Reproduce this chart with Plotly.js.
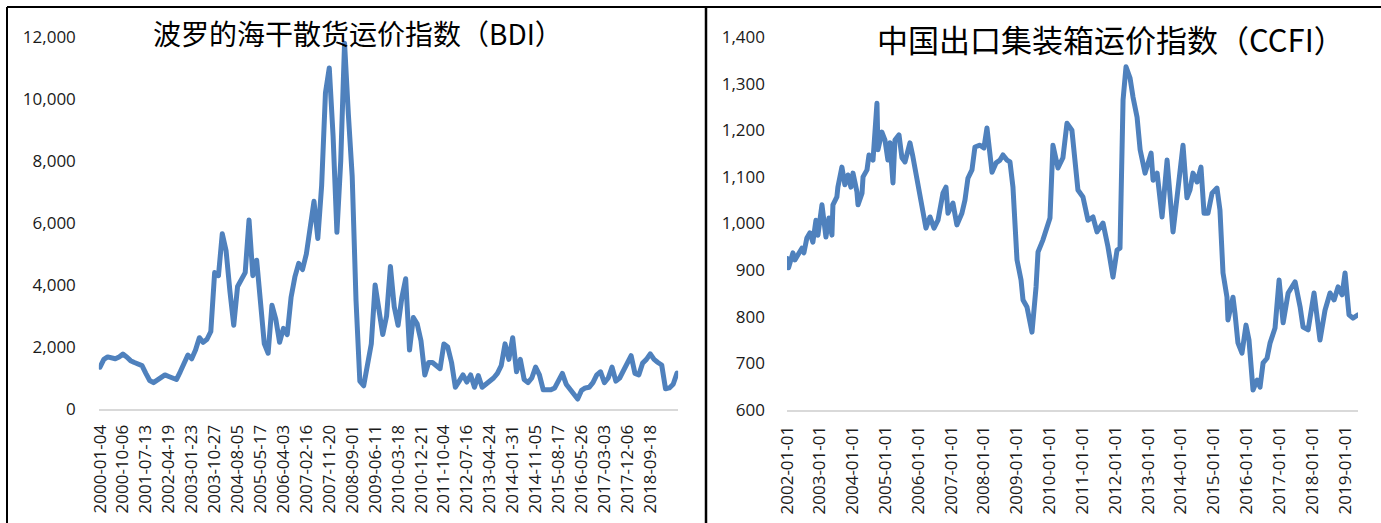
<!DOCTYPE html>
<html>
<head>
<meta charset="utf-8">
<script src="https://cdn.plot.ly/plotly-3.0.1.min.js"></script>
<style>
html,body{margin:0;padding:0;background:#fff;}
#chart{width:1381px;height:523px;}
.scatterlayer .js-line{stroke-linejoin:round;stroke-linecap:round;}
</style>
</head>
<body>
<div id="chart"></div>
<script>
// ---------------- DATA ----------------
const bdiTitle = "波罗的海干散货运价指数（BDI）";
const ccfiTitle = "中国出口集装箱运价指数（CCFI）";

// BDI category-axis tick labels (every 6th point in the series below)
const bdiTickLabels = [
  "2000-01-04","2000-10-06","2001-07-13","2002-04-19","2003-01-23","2003-10-27",
  "2004-08-05","2005-05-17","2006-04-03","2007-02-16","2007-11-20","2008-09-01",
  "2009-06-11","2010-03-18","2010-12-21","2011-10-04","2012-07-16","2013-04-24",
  "2014-01-31","2014-11-05","2015-08-17","2016-05-26","2017-03-03","2017-12-06",
  "2018-09-18"
];
const bdiPointsPerLabel = 6;

// BDI values, evenly spaced along the category axis
const bdiValues2000_2003 = [
  1350,1600,1680,1640,1620,1680, 1770,1680,1560,1500,1460,1400,
  1150,920,850,930,1000,1100, 1050,1000,950,1200,1450,1740,
  1620,1900,2300,2150,2250,2500
];
const bdiValues2003_2007 = [
  4400,4300,5650,5100,3800,2700, 3950,4150,4400,6100,4300,4800,
  3200,2100,1800,3350,2900,2150, 2600,2400,3600,4260,4700,4500,
  5000,6000,6700,5500,7200,10200
];
const bdiValues2007_2011 = [
  11000,8800,5700,8000,11800,9500, 7500,3500,900,750,1400,2100,
  4000,3200,2400,3000,4600,3300, 2700,3600,4200,1900,2950,2750,
  2200,1100,1500,1500,1400,1300
];
const bdiValues2011_2015 = [
  2100,2000,1500,700,900,1100, 870,1100,700,1080,700,800,
  870,1000,1150,1400,2100,1600, 2300,1200,1600,950,850,1000,
  1350,1100,620,600,620,680
];
const bdiValues2015_2019 = [
  950,1150,800,650,450,320, 600,680,700,850,1100,1200,
  850,1000,1350,900,1000,1250, 1500,1720,1150,1100,1480,1600,
  1780,1600,1500,1420,650,680, 800,1160
];

// CCFI readings (date, value)
const ccfiDates = [
  "2002-01-04","2002-01-18","2002-03-08","2002-03-30","2002-06-16","2002-07-08","2002-08-10","2002-09-13","2002-10-16","2002-11-19","2002-12-11",
  "2003-01-25","2003-03-10","2003-04-13","2003-05-16","2003-05-27","2003-07-10","2003-07-21","2003-09-04","2003-10-07","2003-11-10","2003-12-13",
  "2004-01-05","2004-02-18","2004-03-01","2004-04-15","2004-04-26","2004-06-09","2004-07-01","2004-08-15","2004-09-28","2004-10-09","2004-11-22","2004-12-26",
  "2005-01-28","2005-02-20","2005-03-25","2005-04-16","2005-05-31","2005-07-03","2005-08-06","2005-09-30","2005-11-02","2005-12-17",
  "2006-01-19","2006-02-22","2006-03-27","2006-05-11","2006-06-25","2006-08-08","2006-10-02","2006-11-05","2006-11-27",
  "2007-01-21","2007-03-06","2007-05-01","2007-06-04","2007-07-07","2007-08-21","2007-09-23","2007-11-18",
  "2008-01-01","2008-02-04","2008-03-31","2008-05-15","2008-06-28","2008-07-31","2008-09-14","2008-10-17","2008-11-19",
  "2009-01-03","2009-02-17","2009-03-11","2009-04-24","2009-06-19","2009-08-03","2009-08-25","2009-10-19","2009-12-02",
  "2010-01-05","2010-02-07","2010-04-04","2010-05-29","2010-07-13","2010-09-06","2010-11-12",
  "2011-01-07","2011-03-04","2011-04-28","2011-06-12","2011-08-18","2011-10-12","2011-12-07",
  "2012-01-21","2012-02-23","2012-03-28","2012-04-30","2012-06-14","2012-07-17","2012-08-31","2012-10-04","2012-11-28",
  "2013-02-03","2013-02-25","2013-04-11","2013-06-05","2013-07-31","2013-09-02","2013-10-05","2013-11-19",
  "2014-01-24","2014-03-09","2014-04-12","2014-05-15","2014-06-29","2014-08-12","2014-09-15","2014-10-29","2014-12-13",
  "2015-02-06","2015-03-11","2015-04-14","2015-05-28","2015-06-08","2015-08-03","2015-08-25","2015-09-27","2015-11-11","2015-12-26",
  "2016-01-28","2016-03-13","2016-04-27","2016-05-30","2016-07-03","2016-08-16","2016-09-19","2016-11-13","2016-12-28",
  "2017-02-11","2017-04-08","2017-06-24","2017-08-19","2017-09-21","2017-11-16",
  "2018-01-21","2018-03-28","2018-05-23","2018-07-18","2018-09-01","2018-10-15","2018-11-29",
  "2019-01-01","2019-02-14","2019-03-30","2019-05-25"
];
const ccfiValues = [
  925,905,937,922,947,937,969,980,960,1007,975,
  1040,971,1012,975,1040,1057,1078,1121,1083,1104,1078,
  1108,1068,1040,1065,1100,1115,1147,1136,1258,1158,1196,1179,
  1136,1173,1087,1179,1190,1141,1132,1173,1143,1097,
  1057,1035,990,1014,990,1007,1065,1078,1022,
  1044,997,1022,1050,1097,1115,1164,1168,
  1162,1205,1110,1130,1136,1147,1136,1132,1078,
  922,879,836,821,767,864,939,965,997,
  1012,1168,1119,1141,1215,1200,1072,
  1057,1007,1014,982,1001,950,885,
  943,947,1265,1336,1312,1271,1228,1158,1108,
  1151,1093,1108,1014,1136,1050,982,1057,
  1168,1055,1072,1108,1089,1121,1022,1022,1065,
  1076,1029,894,842,793,842,808,744,722,782,
  750,643,664,649,701,711,744,776,879,
  787,851,875,821,778,772,
  851,750,814,851,836,864,847,
  894,804,797,804
];
const ccfiTickLabels = [
  "2002-01-01","2003-01-01","2004-01-01","2005-01-01","2006-01-01","2007-01-01",
  "2008-01-01","2009-01-01","2010-01-01","2011-01-01","2012-01-01","2013-01-01",
  "2014-01-01","2015-01-01","2016-01-01","2017-01-01","2018-01-01","2019-01-01"
];
const bdiYTicks = [0,2000,4000,6000,8000,10000,12000];
const ccfiYTicks = [600,700,800,900,1000,1100,1200,1300,1400];

// ---------------- BUILD ----------------
const W = 1381, H = 523;
const px = x => x / W;
const py = y => 1 - y / H;

const bdiValues = [].concat(bdiValues2000_2003, bdiValues2003_2007, bdiValues2007_2011,
                            bdiValues2011_2015, bdiValues2015_2019);

function toDate(s){ return new Date(s + "T00:00:00Z"); }
function fmt(d){ return d.toISOString().slice(0,10); }
// category keys: tick label dates, with in-between keys spread between them
const bdiCats = [];
for (let j = 0; j < bdiValues.length; j++) {
  const k = Math.floor(j / bdiPointsPerLabel), m = j % bdiPointsPerLabel;
  if (k < bdiTickLabels.length - 1) {
    const a = toDate(bdiTickLabels[k]).getTime(), b = toDate(bdiTickLabels[k+1]).getTime();
    bdiCats.push(m === 0 ? bdiTickLabels[k] : fmt(new Date(a + (b - a) * m / bdiPointsPerLabel)));
  } else {
    const last = toDate(bdiTickLabels[bdiTickLabels.length-1]).getTime();
    const extra = j - (bdiTickLabels.length-1) * bdiPointsPerLabel;
    bdiCats.push(extra === 0 ? bdiTickLabels[bdiTickLabels.length-1] : fmt(new Date(last + extra * 47 * 86400000)));
  }
}

const lineColor = "#4F81BD";
const tickFont = {family: "Open Sans, Noto Sans, sans-serif", size: 17, color: "#1a1a1a"};

const traces = [
  {x: bdiCats, y: bdiValues, type: "scatter", mode: "lines", xaxis: "x", yaxis: "y",
   line: {color: lineColor, width: 5}, hoverinfo: "skip"},
  {x: ccfiDates, y: ccfiValues, type: "scatter", mode: "lines", xaxis: "x2", yaxis: "y2",
   line: {color: lineColor, width: 5}, hoverinfo: "skip"}
];

const n = bdiValues.length;
const leftX0 = 100, leftX1 = 677;
const unit = (leftX1 - leftX0) / (n - 1);
const pad = 0.3;

const layout = {
  width: W, height: H,
  margin: {l: 0, r: 0, t: 0, b: 0},
  paper_bgcolor: "#fff", plot_bgcolor: "rgba(0,0,0,0)",
  showlegend: false,
  xaxis: {
    type: "category", domain: [px(leftX0 - pad*unit), px(leftX1 + pad*unit)],
    range: [-pad, n - 1 + pad], anchor: "y",
    tickmode: "array", tickvals: bdiTickLabels, ticktext: bdiTickLabels,
    tickangle: -90, tickfont: tickFont, ticks: "", ticklabelstandoff: 7,
    showline: true, linecolor: "#D9D9D9", linewidth: 2,
    showgrid: false, zeroline: false, fixedrange: true
  },
  yaxis: {
    domain: [py(409), py(37)], range: [0, 12000], anchor: "x",
    tickmode: "array", tickvals: bdiYTicks, tickformat: ",d",
    tickfont: tickFont, ticks: "", ticklabelstandoff: 22,
    showline: false, showgrid: false, zeroline: false, fixedrange: true
  },
  xaxis2: {
    type: "date", domain: [px(787), px(1358)],
    range: ["2002-01-01", "2019-05-25"], anchor: "y2",
    tickmode: "array", tickvals: ccfiTickLabels, ticktext: ccfiTickLabels,
    tickangle: -90, tickfont: tickFont, ticks: "", ticklabelstandoff: 7,
    showline: true, linecolor: "#D9D9D9", linewidth: 2,
    showgrid: false, zeroline: false, fixedrange: true
  },
  yaxis2: {
    domain: [py(410), py(37)], range: [600, 1400], anchor: "x2",
    tickmode: "array", tickvals: ccfiYTicks, tickformat: ",d",
    tickfont: tickFont, ticks: "", ticklabelstandoff: 21,
    showline: false, showgrid: false, zeroline: false, fixedrange: true
  },
  annotations: [
    {text: bdiTitle, xref: "paper", yref: "paper", x: px(358), y: py(33),
     xanchor: "center", yanchor: "middle", showarrow: false,
     font: {family: "Noto Sans CJK SC, sans-serif", size: 28, color: "#000"}},
    {text: ccfiTitle, xref: "paper", yref: "paper", x: px(1111), y: py(38),
     xanchor: "center", yanchor: "middle", showarrow: false,
     font: {family: "Noto Sans CJK SC, sans-serif", size: 31, color: "#000"}}
  ],
  shapes: [
    {type: "line", xref: "paper", yref: "paper", x0: px(7), x1: 1, y0: py(7), y1: py(7), line: {color: "#000", width: 2}},
    {type: "line", xref: "paper", yref: "paper", x0: px(7), x1: px(7), y0: py(7), y1: 0, line: {color: "#000", width: 2}},
    {type: "line", xref: "paper", yref: "paper", x0: px(706), x1: px(706), y0: py(7), y1: 0, line: {color: "#000", width: 2.5}}
  ]
};

Plotly.newPlot("chart", traces, layout, {staticPlot: true, displayModeBar: false});
</script>
</body>
</html>
